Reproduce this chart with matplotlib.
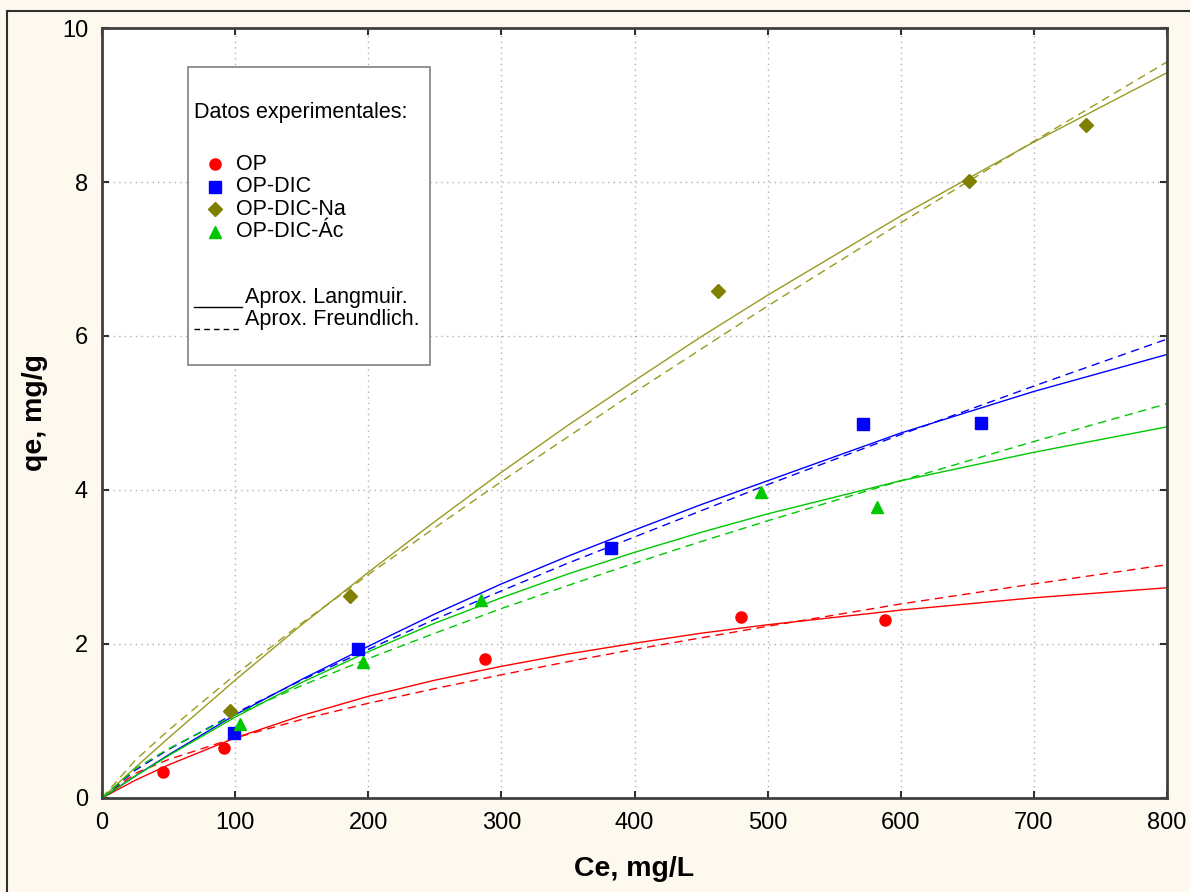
import numpy as np
import matplotlib.pyplot as plt
from matplotlib.patches import Rectangle
from matplotlib.lines import Line2D

plt.rcParams['font.family'] = ['Liberation Sans', 'DejaVu Sans']

# experimental points
op_x = [46, 92, 288, 480, 588]
op_y = [0.34, 0.65, 1.81, 2.35, 2.31]
dic_x = [99, 192, 382, 572, 660]
dic_y = [0.85, 1.94, 3.25, 4.86, 4.87]
na_x = [96, 186, 463, 651, 739]
na_y = [1.13, 2.62, 6.58, 8.01, 8.74]
ac_x = [104, 196, 285, 495, 582]
ac_y = [0.96, 1.77, 2.57, 3.97, 3.78]

# fitted curves
ce = [0, 25, 50, 100, 150, 200, 250, 300, 350, 400, 450, 500, 600, 700, 800]
op_lang = [0, 0.23, 0.43, 0.78, 1.07, 1.32, 1.53, 1.71, 1.87, 2.01, 2.14, 2.25, 2.44, 2.60, 2.73]
op_freu = [0, 0.32, 0.50, 0.78, 1.02, 1.23, 1.42, 1.60, 1.77, 1.93, 2.08, 2.23, 2.52, 2.78, 3.03]
dic_lang = [0, 0.285, 0.56, 1.08, 1.54, 1.97, 2.39, 2.78, 3.14, 3.48, 3.81, 4.12, 4.74, 5.28, 5.76]
dic_freu = [0, 0.36, 0.63, 1.10, 1.53, 1.93, 2.32, 2.69, 3.05, 3.39, 3.73, 4.07, 4.72, 5.35, 5.96]
na_lang = [0, 0.395, 0.78, 1.53, 2.25, 2.93, 3.59, 4.23, 4.84, 5.42, 5.99, 6.53, 7.56, 8.52, 9.42]
na_freu = [0, 0.49, 0.88, 1.60, 2.27, 2.90, 3.51, 4.11, 4.69, 5.27, 5.83, 6.39, 7.47, 8.53, 9.56]
ac_lang = [0, 0.285, 0.55, 1.05, 1.50, 1.90, 2.27, 2.60, 2.91, 3.19, 3.45, 3.69, 4.12, 4.49, 4.82]
ac_freu = [0, 0.38, 0.64, 1.08, 1.46, 1.81, 2.14, 2.46, 2.76, 3.05, 3.33, 3.60, 4.12, 4.63, 5.12]

red = '#FF0000'
blue = '#0000FF'
olive = '#808000'
olive_line = '#9A9A20'
green = '#00C800'
dash = (0, (6, 4))

fig = plt.figure(figsize=(11.9, 8.92), dpi=100, facecolor='#FEF9EF')
ax = fig.add_axes([0.0857, 0.1054, 0.895, 0.8632])
ax.set_facecolor('white')

lw = 1.0
ax.plot(ce, op_lang, color=red, lw=lw)
ax.plot(ce, op_freu, color=red, lw=lw, ls=dash)
ax.plot(ce, dic_lang, color=blue, lw=lw)
ax.plot(ce, dic_freu, color=blue, lw=lw, ls=dash)
ax.plot(ce, na_lang, color=olive_line, lw=lw)
ax.plot(ce, na_freu, color=olive_line, lw=lw, ls=dash)
ax.plot(ce, ac_lang, color=green, lw=lw)
ax.plot(ce, ac_freu, color=green, lw=lw, ls=dash)

ax.plot(op_x, op_y, 'o', color=red, ms=8, mec=red)
ax.plot(dic_x, dic_y, 's', color=blue, ms=8.5, mec=blue)
ax.plot(na_x, na_y, 'D', color=olive, ms=7.5, mec=olive)
ax.plot(ac_x, ac_y, '^', color=green, ms=9, mec=green)

ax.set_xlim(0, 800)
ax.set_ylim(0, 10)
ax.set_xticks(range(0, 801, 100))
ax.set_yticks(range(0, 11, 2))
ax.grid(True, ls=(0, (1, 3)), color='#B0B0B0', lw=1)
ax.tick_params(direction='in', length=5, width=1.5, top=True, right=True,
               labelsize=17, pad=10, color='#303030')
for sp in ax.spines.values():
    sp.set_color('#404040')
    sp.set_linewidth(2)

ax.set_xlabel('Ce, mg/L', fontsize=20.5, fontweight='bold', labelpad=16)
ax.set_ylabel('qe, mg/g', fontsize=20.5, fontweight='bold', labelpad=10)

# legend box drawn by hand to match the layout
ax.add_patch(Rectangle((0.081, 0.562), 0.227, 0.387, transform=ax.transAxes,
                       facecolor='white', edgecolor='#808080', lw=1.2, zorder=5))
ax.text(0.086, 0.890, 'Datos experimentales:', transform=ax.transAxes,
        fontsize=15.5, va='center', zorder=6)
leg_items = [('o', red, 'OP', 8), ('s', blue, 'OP-DIC', 8),
             ('D', olive, 'OP-DIC-Na', 7), ('^', green, 'OP-DIC-Ác', 8.5)]
for k, (m, c, lab, s) in enumerate(leg_items):
    yy = 0.823 - k * 0.0293
    ax.add_line(Line2D([0.106], [yy], marker=m, color=c, ms=s, ls='none',
                       transform=ax.transAxes, zorder=6))
    ax.text(0.126, yy, lab, transform=ax.transAxes, fontsize=15.5,
            va='center', zorder=6)
ax.add_line(Line2D([0.086, 0.131], [0.638, 0.638], color='black', lw=1,
                   transform=ax.transAxes, zorder=6))
ax.text(0.134, 0.650, 'Aprox. Langmuir.', transform=ax.transAxes,
        fontsize=15.5, va='center', zorder=6)
ax.add_line(Line2D([0.086, 0.131], [0.609, 0.609], color='black', lw=1,
                   ls=(0, (4, 3)), transform=ax.transAxes, zorder=6))
ax.text(0.134, 0.621, 'Aprox. Freundlich.', transform=ax.transAxes,
        fontsize=15.5, va='center', zorder=6)

# outer frame visible at the top-left of the screenshot
fig.add_artist(Rectangle((7 / 1190, -0.1), 1.2, 1 - 11 / 892 + 0.1,
                         transform=fig.transFigure, fill=False,
                         edgecolor='#303030', lw=1.5))

fig.savefig('out.png', dpi=100, facecolor=fig.get_facecolor())
